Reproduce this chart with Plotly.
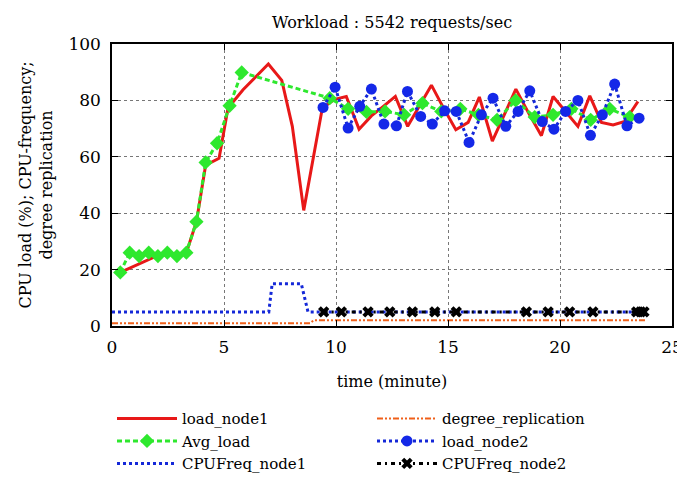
import plotly.graph_objects as go

# values (time in minutes)
load_node1_t = [0.37, 1.2, 2.05, 2.9, 3.32, 3.77, 4.18, 4.78, 5.18, 5.85, 6.42, 6.98, 7.58, 8.05,
                8.56, 9.39, 9.94, 10.46, 11.03, 11.58, 12.1, 12.65, 13.2, 13.73, 14.26, 14.82,
                15.35, 15.9, 16.4, 16.98, 17.5, 18.03, 18.6, 19.17, 19.69, 20.25, 20.8, 21.33,
                21.85, 22.37, 22.89, 23.48]
load_node1 = [19, 22, 25, 25.5, 26, 37, 57, 59.5, 77.3, 83.8, 88.5, 92.9, 87.1, 70.8,
              41, 77.3, 80.4, 81.4, 69.8, 74.5, 77.8, 81.4, 70.8, 78, 85.4, 77,
              69.6, 72.2, 81.2, 65.6, 74.5, 84, 75.5, 67.5, 81.4, 76, 70.8, 81.6,
              72.2, 71.3, 72.5, 79.6]

avg_load_t = [0.37, 0.79, 1.21, 1.64, 2.05, 2.47, 2.9, 3.32, 3.77, 4.18, 4.69, 5.25, 5.79,
              9.72, 10.54, 11.36, 12.19, 13.04, 13.86, 14.7, 15.55, 16.36, 17.19, 18.02,
              18.87, 19.69, 20.51, 21.37, 22.22, 23.11]
avg_load = [19, 26, 24.8, 26, 24.8, 26, 24.8, 26, 37, 58, 64.8, 78.1, 89.9,
            80.8, 77, 75.9, 76.1, 74.9, 79, 76.1, 77, 74.9, 73.1, 80,
            74.1, 74.9, 77, 73.1, 77, 74.1]

load_node2_t = [9.42, 9.96, 10.54, 11.06, 11.58, 12.14, 12.7, 13.19, 13.78, 14.3, 14.85, 15.37,
                15.94, 16.49, 17.01, 17.58, 18.13, 18.65, 19.21, 19.73, 20.25, 20.8, 21.36,
                21.89, 22.44, 22.99, 23.53]
load_node2 = [77.5, 84.7, 70.2, 77.9, 84, 71.6, 71, 83.2, 74.3, 71.6, 76.3, 76.1,
              65.1, 74.9, 80.8, 70.8, 76.1, 83.4, 72.5, 69.8, 76.1, 80, 67.6,
              74.9, 85.8, 71, 73.7]

cpufreq_node1_t = [0, 7.0, 7.15, 8.45, 8.75, 23.7]
cpufreq_node1 = [5, 5, 15, 15, 5, 5]

degree_rep_t = [0, 8.85, 9.0, 23.8]
degree_rep = [1, 1, 2, 2]

cpufreq_node2_t = [9.45, 10.24, 11.43, 12.4, 13.41, 14.41, 15.37, 18.5, 19.47, 20.43,
                   21.47, 23.42, 23.6, 23.75]
cpufreq_node2 = [5] * len(cpufreq_node2_t)

FONT = "DejaVu Serif"

fig = go.Figure()

# interleaved so the horizontal legend fills two columns like the original
fig.add_trace(go.Scatter(x=load_node1_t, y=load_node1, name="load_node1", mode="lines",
                         line=dict(color="#e81818", width=3)))
fig.add_trace(go.Scatter(x=degree_rep_t, y=degree_rep, name="degree_replication", mode="lines",
                         line=dict(color="#f0601a", width=2, dash="6px,2px,2px,2px,2px,2px")))
fig.add_trace(go.Scatter(x=avg_load_t, y=avg_load, name="Avg_load", mode="lines+markers",
                         line=dict(color="#2ee82e", width=3, dash="5px,3px"),
                         marker=dict(symbol="diamond", size=11, color="#2ee82e")))
fig.add_trace(go.Scatter(x=load_node2_t, y=load_node2, name="load_node2", mode="lines+markers",
                         line=dict(color="#1428d8", width=3, dash="dot"),
                         marker=dict(symbol="circle", size=11, color="#1428e8")))
fig.add_trace(go.Scatter(x=cpufreq_node1_t, y=cpufreq_node1, name="CPUFreq_node1", mode="lines",
                         line=dict(color="#1428d8", width=3, dash="dot")))
fig.add_trace(go.Scatter(x=cpufreq_node2_t, y=cpufreq_node2, name="CPUFreq_node2",
                         mode="lines+markers",
                         line=dict(color="black", width=3, dash="4px,4px,2px,4px"),
                         marker=dict(symbol="x", size=10, color="black")))

axis_common = dict(showline=True, linecolor="black", linewidth=1.5, mirror="ticks",
                   ticks="inside", ticklen=6, tickcolor="black",
                   showgrid=True, gridcolor="#777", griddash="dot", gridwidth=1,
                   zeroline=False, tickfont=dict(family=FONT, size=17, color="black"))

fig.update_xaxes(range=[0, 25], dtick=5, tick0=0, ticklabelstandoff=5,
                 title=dict(text="time (minute)", font=dict(family=FONT, size=16, color="black"),
                            standoff=20),
                 **axis_common)
fig.update_yaxes(range=[0, 100], dtick=20, tick0=0, ticklabelstandoff=6,
                 title=dict(text="CPU load (%); CPU-frequency;<br>degree replication",
                            font=dict(family=FONT, size=16, color="black"), standoff=12),
                 **axis_common)

# page body adds 8px around the figure, so size and margins are reduced by that much
fig.update_layout(
    width=677, height=473,
    paper_bgcolor="white", plot_bgcolor="white",
    margin=dict(l=104, r=13, t=36, b=155, autoexpand=False),
    title=dict(text="Workload : 5542 requests/sec", xref="paper", x=0.5, xanchor="center",
               yref="paper", y=1, yanchor="bottom", pad=dict(b=16),
               font=dict(family=FONT, size=16, color="black")),
    font=dict(family=FONT, color="black"),
    legend=dict(orientation="h", x=0.0, xanchor="left", y=-0.27, yanchor="top",
                entrywidth=185, entrywidthmode="pixels",
                font=dict(family=FONT, size=15, color="black"),
                itemwidth=60, tracegroupgap=0, bgcolor="rgba(0,0,0,0)"),
)

fig.write_html("out.html")
